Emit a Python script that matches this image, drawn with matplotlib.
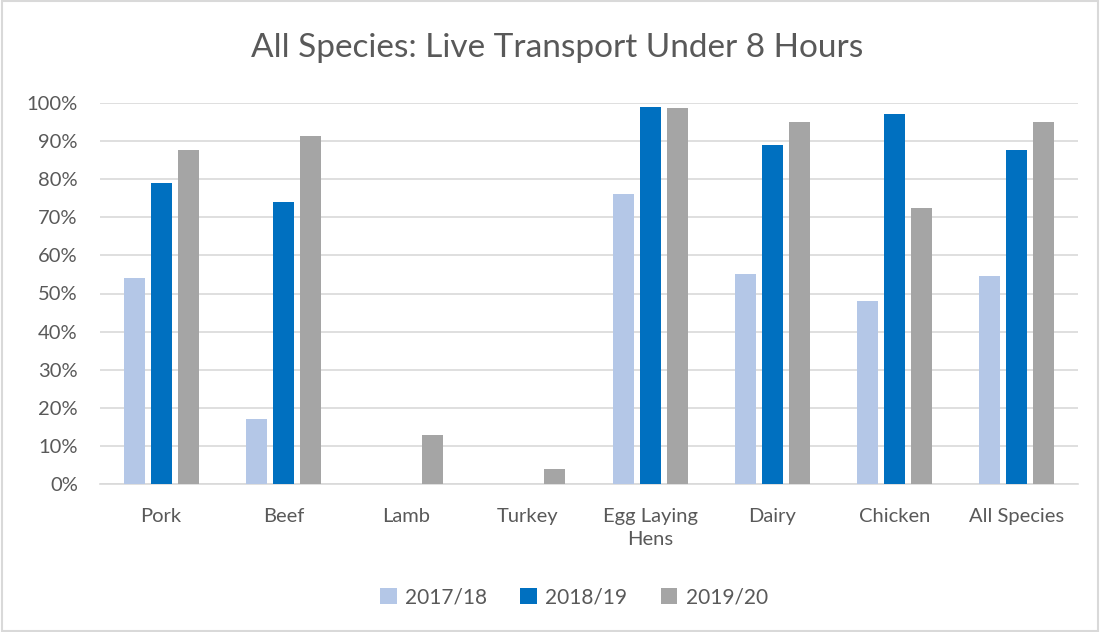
import matplotlib.pyplot as plt
import numpy as np
from matplotlib.ticker import PercentFormatter

categories = ['Pork', 'Beef', 'Lamb', 'Turkey', 'Egg Laying\nHens', 'Dairy', 'Chicken', 'All Species']
y2017 = [54.0, 17.0, 0, 0, 76.0, 55.0, 48.0, 54.6]
y2018 = [79.0, 74.0, 0, 0, 99.0, 89.0, 97.0, 87.6]
y2019 = [87.7, 91.4, 12.9, 3.9, 98.8, 95.0, 72.4, 94.9]
series_names = ['2017/18', '2018/19', '2019/20']
colors = ['#b4c7e7', '#0070c0', '#a5a5a5']

plt.rcParams['font.family'] = ['Lato', 'DejaVu Sans']

fig = plt.figure(figsize=(11, 6.32), dpi=100)
ax = fig.add_axes([100/1100, 1 - 484/632, 978/1100, 381/632])

x = np.arange(len(categories))
w = 0.172
off = 0.221
for i, (vals, name, c) in enumerate(zip([y2017, y2018, y2019], series_names, colors)):
    ax.bar(x + (i - 1) * off, vals, w, color=c, label=name, zorder=3)

ax.set_xlim(-0.5, len(categories) - 0.5)
ax.set_ylim(0, 100)
ax.set_yticks(np.arange(0, 101, 10))
ax.yaxis.set_major_formatter(PercentFormatter(decimals=0))
ax.grid(axis='y', color='#d9d9d9', linewidth=1.2, zorder=0)
for s in ['top', 'right', 'left']:
    ax.spines[s].set_visible(False)
ax.spines['bottom'].set_color('#d9d9d9')
ax.spines['bottom'].set_linewidth(1.2)
ax.tick_params(axis='both', length=0, labelsize=14.5, colors='#595959')
ax.tick_params(axis='x', pad=17)
ax.tick_params(axis='y', pad=16)
ax.set_xticks(x)
ax.set_xticklabels(categories, linespacing=1.45)
for lbl in ax.get_xticklabels():
    lbl.set_verticalalignment('top')

fig.text(557/1100, 1 - 48/632, 'All Species: Live Transport Under 8 Hours',
         ha='center', va='center', fontsize=24, color='#595959')

fig.legend(loc='center', bbox_to_anchor=(574/1100, 1 - 597/632), ncol=3,
           frameon=False, fontsize=15, handlelength=0.8, handleheight=0.8,
           handletextpad=0.4, columnspacing=1.6, labelcolor='#595959')

fig.patches.append(plt.Rectangle((0.002, 0.002), 0.996, 0.996, transform=fig.transFigure,
                                 fill=False, edgecolor='#d9d9d9', linewidth=1.5))

fig.savefig('out.png', dpi=100)
